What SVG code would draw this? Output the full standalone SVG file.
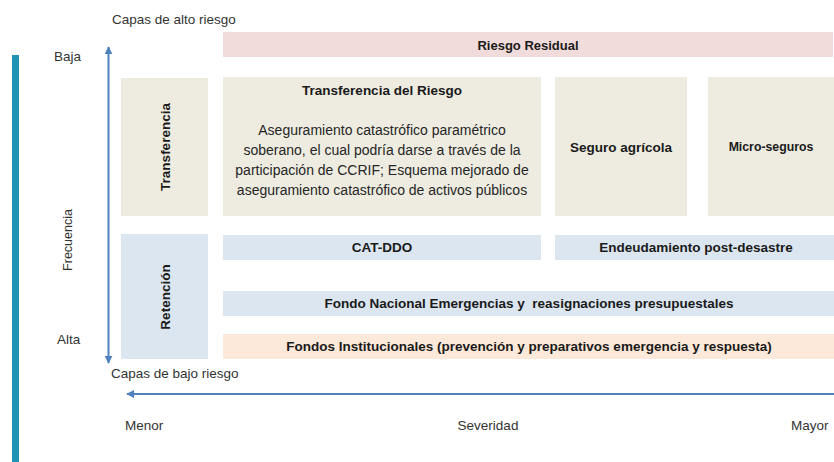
<svg xmlns="http://www.w3.org/2000/svg" width="834" height="462" viewBox="0 0 834 462">
<defs>
<style>
text{font-family:"Liberation Sans",Arial,sans-serif;fill:#262626;}
.lbl{font-size:13.5px;fill:#333;}
.b{font-size:13.5px;font-weight:bold;text-anchor:middle;fill:#1a1a1a;}
.body{font-size:14px;text-anchor:middle;fill:#262626;}
.beige{fill:#eeece1;}
.blue{fill:#dce6f1;}
.arrow{stroke:#4f81bd;stroke-width:2;fill:none;}
</style>
<marker id="ah" viewBox="0 0 10 10" refX="9" refY="5" markerWidth="4" markerHeight="4" orient="auto-start-reverse" markerUnits="strokeWidth">
<path d="M0,0 L10,5 L0,10 z" fill="#4f81bd"/>
</marker>
</defs>
<rect width="834" height="462" fill="#ffffff"/>
<rect id="teal-bar" x="12" y="55" width="7" height="407" fill="#1f93b6"/>

<g id="connectors">
<line class="arrow" x1="108.5" y1="363" x2="108.5" y2="47" marker-start="url(#ah)" marker-end="url(#ah)"/>
<line class="arrow" x1="834" y1="394" x2="127" y2="394" marker-end="url(#ah)"/>
</g>

<g id="axis-labels">
<text class="lbl" x="112" y="24">Capas de alto riesgo</text>
<text class="lbl" x="54" y="61">Baja</text>
<text class="lbl" x="57" y="344">Alta</text>
<text class="lbl" x="111" y="378">Capas de bajo riesgo</text>
<text class="lbl" transform="translate(72,240) rotate(-90)" text-anchor="middle" style="font-size:12.5px">Frecuencia</text>
<text class="lbl" x="125" y="430">Menor</text>
<text class="lbl" x="488" y="430" text-anchor="middle">Severidad</text>
<text class="lbl" x="791" y="430">Mayor</text>
</g>

<g id="riesgo-residual">
<rect x="223" y="32" width="610" height="25" fill="#f2dcdb"/>
<text class="b" x="528" y="50" style="font-size:13px">Riesgo Residual</text>
</g>

<g id="transferencia">
<rect class="beige" x="121" y="78" width="87" height="138"/>
<text class="b" transform="translate(170,147) rotate(-90)">Transferencia</text>
</g>

<g id="transferencia-del-riesgo">
<rect class="beige" x="223" y="77" width="318" height="139"/>
<text class="b" x="382" y="95">Transferencia del Riesgo</text>
<text class="body" x="382" y="135">Aseguramiento catastrófico paramétrico</text>
<text class="body" x="382" y="155">soberano, el cual podría darse a través de la</text>
<text class="body" x="382" y="175">participación de CCRIF; Esquema mejorado de</text>
<text class="body" x="382" y="195">aseguramiento catastrófico de activos públicos</text>
</g>

<g id="seguro-agricola">
<rect class="beige" x="555" y="77" width="132" height="139"/>
<text class="b" x="621" y="152">Seguro agrícola</text>
</g>

<g id="micro-seguros">
<rect class="beige" x="708" y="77" width="126" height="139"/>
<text class="b" x="771" y="151" style="font-size:12.3px">Micro-seguros</text>
</g>

<g id="retencion">
<rect class="blue" x="121" y="234" width="87" height="125"/>
<text class="b" transform="translate(170,297) rotate(-90)">Retención</text>
</g>

<g id="cat-ddo">
<rect class="blue" x="223" y="235" width="318" height="25"/>
<text class="b" x="382" y="252">CAT-DDO</text>
</g>

<g id="endeudamiento">
<rect class="blue" x="555" y="235" width="279" height="25"/>
<text class="b" x="696" y="252">Endeudamiento post-desastre</text>
</g>

<g id="fondo-nacional">
<rect class="blue" x="223" y="291" width="611" height="25"/>
<text class="b" x="529" y="308" xml:space="preserve">Fondo Nacional Emergencias y  reasignaciones presupuestales</text>
</g>

<g id="fondos-institucionales">
<rect x="223" y="334" width="611" height="25" fill="#fde9d9"/>
<text class="b" x="529" y="351">Fondos Institucionales (prevención y preparativos emergencia y respuesta)</text>
</g>
</svg>
